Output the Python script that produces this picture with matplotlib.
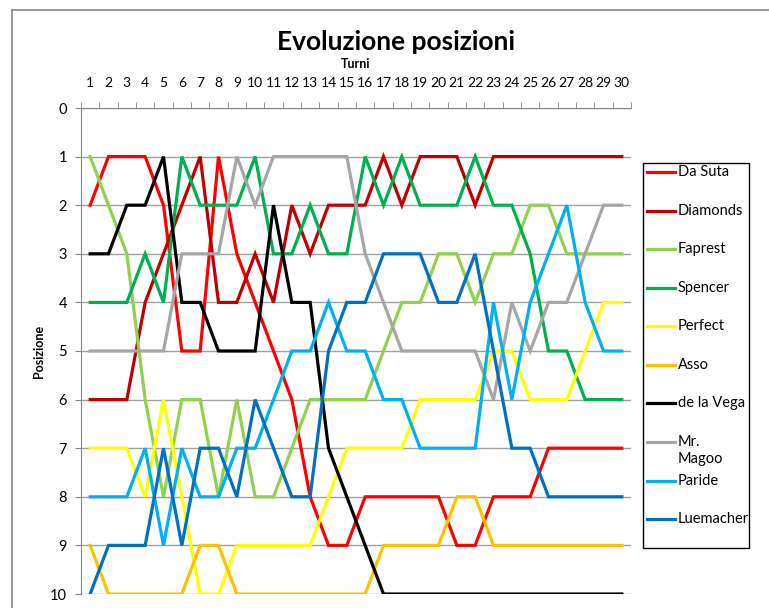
import matplotlib
matplotlib.use("Agg")
import matplotlib.pyplot as plt
from matplotlib.lines import Line2D
from matplotlib.patches import Rectangle

# turns (x axis)
turni = list(range(1, 31))

# positions per team, one value per turn
da_suta = [2, 1, 1, 1, 2, 5, 5, 1, 3, 4, 5, 6, 8, 9, 9, 8, 8, 8, 8, 8, 9, 9, 8, 8, 8, 7, 7, 7, 7, 7]
diamonds = [6, 6, 6, 4, 3, 2, 1, 4, 4, 3, 4, 2, 3, 2, 2, 2, 1, 2, 1, 1, 1, 2, 1, 1, 1, 1, 1, 1, 1, 1]
faprest = [1, 2, 3, 6, 8, 6, 6, 8, 6, 8, 8, 7, 6, 6, 6, 6, 5, 4, 4, 3, 3, 4, 3, 3, 2, 2, 3, 3, 3, 3]
spencer = [4, 4, 4, 3, 4, 1, 2, 2, 2, 1, 3, 3, 2, 3, 3, 1, 2, 1, 2, 2, 2, 1, 2, 2, 3, 5, 5, 6, 6, 6]
perfect = [7, 7, 7, 8, 6, 8, 10, 10, 9, 9, 9, 9, 9, 8, 7, 7, 7, 7, 6, 6, 6, 6, 5, 5, 6, 6, 6, 5, 4, 4]
asso = [9, 10, 10, 10, 10, 10, 9, 9, 10, 10, 10, 10, 10, 10, 10, 10, 9, 9, 9, 9, 8, 8, 9, 9, 9, 9, 9, 9, 9, 9]
de_la_vega = [3, 3, 2, 2, 1, 4, 4, 5, 5, 5, 2, 4, 4, 7, 8, 9, 10, 10, 10, 10, 10, 10, 10, 10, 10, 10, 10, 10, 10, 10]
mr_magoo = [5, 5, 5, 5, 5, 3, 3, 3, 1, 2, 1, 1, 1, 1, 1, 3, 4, 5, 5, 5, 5, 5, 6, 4, 5, 4, 4, 3, 2, 2]
paride = [8, 8, 8, 7, 9, 7, 8, 8, 7, 7, 6, 5, 5, 4, 5, 5, 6, 6, 7, 7, 7, 7, 4, 6, 4, 3, 2, 4, 5, 5]
luemacher = [10, 9, 9, 9, 7, 9, 7, 7, 8, 6, 7, 8, 8, 5, 4, 4, 3, 3, 3, 4, 4, 3, 5, 7, 7, 8, 8, 8, 8, 8]

nomi = ["Da Suta", "Diamonds", "Faprest", "Spencer", "Perfect", "Asso",
        "de la Vega", "Mr.\nMagoo", "Paride", "Luemacher"]
serie = [da_suta, diamonds, faprest, spencer, perfect, asso,
         de_la_vega, mr_magoo, paride, luemacher]
colori = ["#FF0000", "#C00000", "#92D050", "#00B050", "#FFFF00", "#FFC000",
          "#000000", "#A6A6A6", "#00B0F0", "#0070C0"]

plt.rcParams["font.family"] = ["Lato", "DejaVu Sans"]

W, H = 769, 608
fig = plt.figure(figsize=(W / 100, H / 100), dpi=100)
ax = fig.add_axes([81 / W, (H - 594) / H, 550 / W, 486 / H])

for s, c in zip(serie, colori):
    ax.plot(turni, s, color=c, lw=2.3, solid_joinstyle="miter", zorder=3)

ax.set_xlim(0.5, 30.5)
ax.set_ylim(10, 0)

# horizontal gridlines
ax.set_yticks(range(0, 11))
ax.grid(axis="y", color="#A0A0A0", lw=1, zorder=1)

# x axis on top, labels centered on categories, ticks between them
ax.xaxis.tick_top()
ax.set_xticks(turni)
ax.set_xticks([t - 0.5 for t in turni] + [30.5], minor=True)
ax.tick_params(axis="x", which="major", length=0, pad=14, labelsize=10)
ax.tick_params(axis="x", which="minor", length=4, color="#868686", direction="out")
ax.tick_params(axis="y", length=4, color="#868686", pad=6, labelsize=10.5)

for sp in ["right", "bottom"]:
    ax.spines[sp].set_visible(False)
for sp in ["left", "top"]:
    ax.spines[sp].set_color("#868686")

ax.xaxis.set_label_position("top")
ax.set_xlabel("Turni", fontsize=9, fontweight="bold", labelpad=6)
ax.set_ylabel("Posizione", fontsize=9, fontweight="bold", labelpad=4)

fig.text(396 / W, 1 - 42 / H, "Evoluzione posizioni", ha="center", va="center",
         fontsize=19, fontweight="bold")

# outer chart border
fig.add_artist(Line2D([12 / W, 12 / W], [0, 1 - 10 / H], color="#868686", lw=1.2))
fig.add_artist(Line2D([12 / W, 1], [1 - 10 / H, 1 - 10 / H], color="#868686", lw=1.2))

# legend box
lx0, lx1, ly0, ly1 = 643, 749, 163, 548
fig.add_artist(Rectangle((lx0 / W, 1 - ly1 / H), (lx1 - lx0) / W, (ly1 - ly0) / H,
                         fill=False, edgecolor="black", lw=1, transform=fig.transFigure))
legend_y = [172, 211, 249, 288, 326, 365, 403, 442, 481, 519]
for nome, c, y in zip(nomi, colori, legend_y):
    fig.add_artist(Line2D([647 / W, 675 / W], [1 - y / H, 1 - y / H], color=c, lw=2.3))
    fig.text(678 / W, 1 - (y - 7) / H, nome, ha="left", va="top", fontsize=10.5,
             linespacing=1.25)

fig.savefig("out.png", dpi=100)
